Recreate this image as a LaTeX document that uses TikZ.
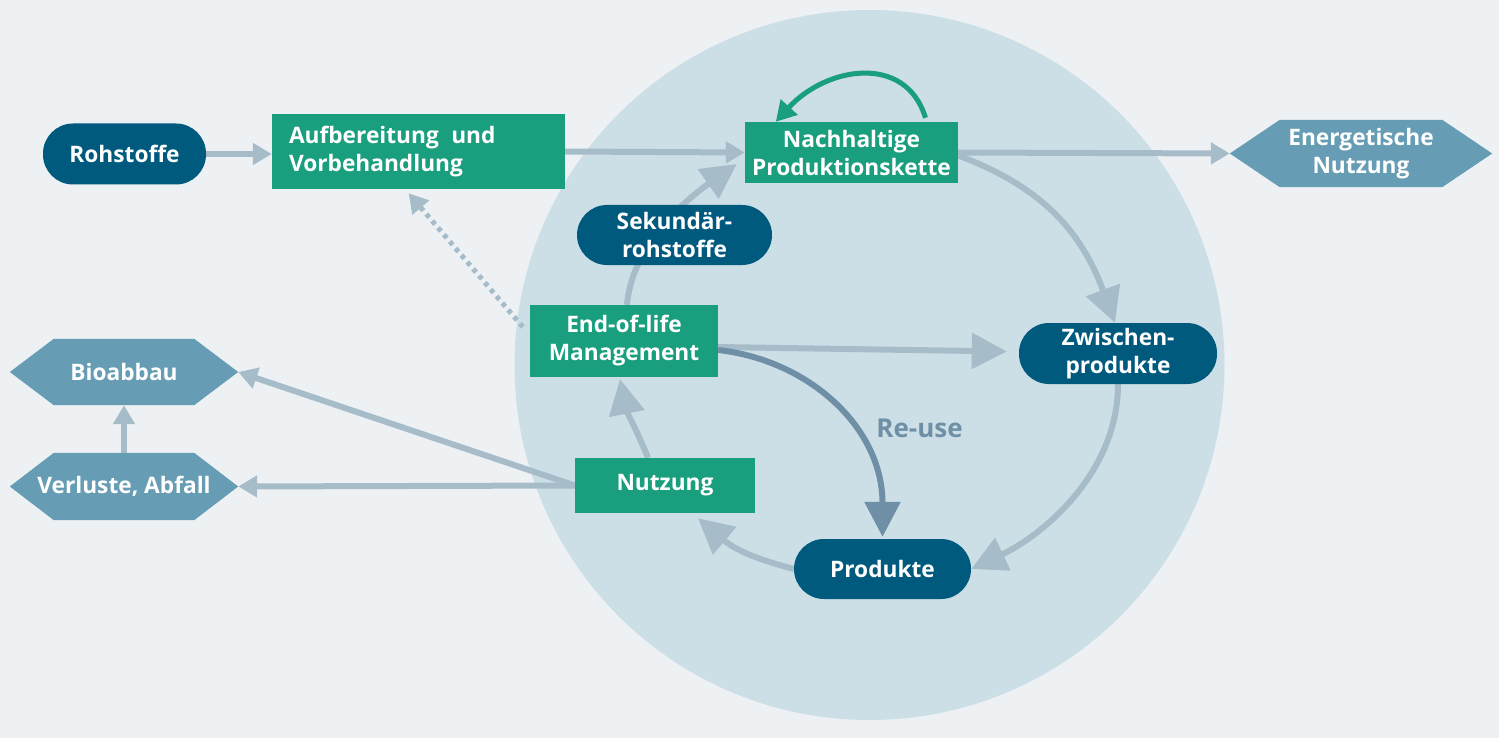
\documentclass[tikz,border=0pt]{standalone}
\usepackage{fontspec}
\setmainfont{Open Sans}
\usetikzlibrary{arrows.meta,calc}
\pgfdeclarelayer{bg}\pgfdeclarelayer{edges}\pgfsetlayers{bg,edges,main}
\definecolor{bgc}{HTML}{EDF1F4}
\definecolor{circc}{HTML}{CCDFE6}
\definecolor{bluec}{HTML}{005A7E}
\definecolor{greenc}{HTML}{199E7E}
\definecolor{hexc}{HTML}{669DB4}
\definecolor{arrowc}{HTML}{A7BCC9}
\definecolor{reusec}{HTML}{6F8FA6}
\newcommand{\LblFont}{\fontsize{22.7}{28}\selectfont\bfseries}
\newcommand{\HexFill}[2]{\fill[hexc] (#1.west) -- ([xshift=#2]#1.north west) -- ([xshift=-#2]#1.north east) -- (#1.east) -- ([xshift=-#2]#1.south east) -- ([xshift=#2]#1.south west) -- cycle;}
\tikzset{
  lbl/.style={text=white, font=\LblFont, inner sep=0pt, align=center},
  greenbox/.style={lbl, fill=greenc},
  pill/.style={lbl, fill=bluec, rounded corners=30pt},
  hexbox/.style={lbl, minimum height=67pt},
  flow/.style={draw=arrowc, line width=6pt},
  bighead/.style={-{Triangle[length=35pt,width=35pt]}},
  smallhead/.style={-{Triangle[length=19pt,width=21pt]}},
}
\begin{document}
\begin{tikzpicture}[x=1pt,y=-1pt]
\useasboundingbox (0,0) rectangle (1499,738);

% nodes
\node[pill, minimum width=163pt, minimum height=61pt] (roh) at (124.5,154) {Rohstoffe};
\node[greenbox, text width=259pt, inner xsep=17pt, minimum height=75pt, align=left] (auf) at (418.5,151.5) {Aufbereitung\hspace{0.55em}und\\Vorbehandlung};
\node[greenbox, minimum width=213pt, minimum height=61pt] (nach) at (851.5,152.5) {Nachhaltige\\Produktionskette};
\node[hexbox, minimum width=262pt] (ene) at (1361,153.5) {Energetische\\Nutzung};
\node[pill, minimum width=195pt, minimum height=60pt] (sek) at (674.5,235) {Sekund\"ar-\\rohstoffe};
\node[greenbox, minimum width=188pt, minimum height=72pt] (eol) at (624,341) {End-of-life\\Management};
\node[pill, minimum width=198pt, minimum height=61pt] (zw) at (1118,353.5) {Zwischen-\\produkte};
\node[greenbox, minimum width=180pt, minimum height=55pt] (nut) at (665,485.5) {Nutzung};
\node[pill, minimum width=177pt, minimum height=60pt] (prod) at (882.5,569) {Produkte};
\node[hexbox, minimum width=228pt, minimum height=66pt] (bio) at (124,372) {Bioabbau};
\node[hexbox, minimum width=228pt] (ver) at (124,486.5) {Verluste, Abfall};
\node[text=reusec, font=\fontsize{26}{30}\selectfont\bfseries, inner sep=0pt] (reuse) at (919.5,428) {Re-use};

\begin{pgfonlayer}{bg}
  \fill[bgc] (0,0) rectangle (1499,738);
  \fill[circc] (869.5,365) circle[radius=355];
  \HexFill{ene}{50}
  \HexFill{bio}{44}
  \HexFill{ver}{44}
\end{pgfonlayer}

\begin{pgfonlayer}{edges}
  \draw[flow,smallhead] (roh.east) -- (roh.east -| auf.west);
  \draw[flow,smallhead] (auf.east) -- (nach.west);
  \draw[flow,smallhead] (nach.east) -- (ene.west);
  \draw[flow,bighead] ($(nach.east)+(0,3)$) .. controls +(80,30) and +(-35,-95) .. ($(zw.north)+(-3,0)$);
  \draw[flow,bighead] (zw.south) .. controls +(0,90) and +(70,-33) .. (prod.east);
  \draw[flow,bighead] (prod.west) .. controls +(-30,-8) and +(40,34) .. ($(nut.south)+(33,5)$);
  \draw[flow,bighead] ($(nut.north)+(-17,0)$) .. controls +(-8,-20) and +(6,30) .. ($(eol.south)+(-4,2)$);
  \draw[flow,bighead] ($(eol.north)+(3,0)$) .. controls +(5,-60) and +(-50,35) .. ($(nach.west)+(-8,11.5)$);
  \draw[flow,bighead] ($(eol.east)+(0,6)$) -- ($(zw.west)+(-12,-2)$);
  \draw[flow,draw=reusec,bighead] ($(eol.east)+(0,9)$) .. controls +(90,10) and +(0,-110) .. ($(prod.north)+(0,-2)$);
  \draw[flow,smallhead] (nut.west) -- (bio.east);
  \draw[flow,smallhead] (nut.west) -- (ver.east);
  \draw[flow,smallhead] (ver.north) -- (bio.south);
  \draw[flow,line width=5pt,dash pattern=on 4.5pt off 4.5pt,smallhead] ($(eol.west)+(-7,-14)$) -- ($(auf.south)+(-10,4)$);
  \draw[draw=greenc,line width=5pt,-{Triangle[length=20pt,width=22pt]}] ($(nach.north)+(74,-4)$) .. controls +(-20,-65) and +(50,-55) .. ($(nach.north west)+(31,0)$);
\end{pgfonlayer}
\end{tikzpicture}
\end{document}
